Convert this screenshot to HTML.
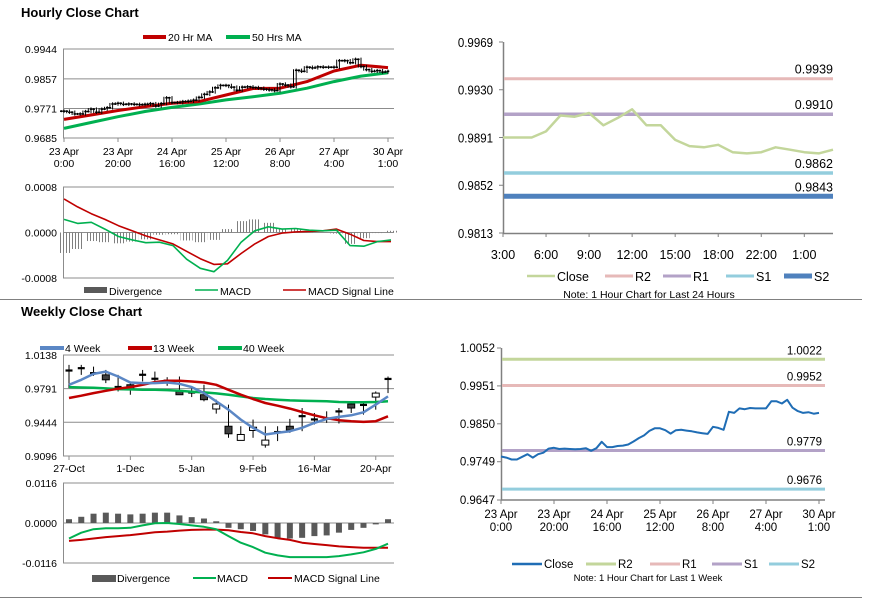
<!DOCTYPE html>
<html><head><meta charset="utf-8"><style>
html,body{margin:0;padding:0;background:#fff;}
svg{display:block;font-family:"Liberation Sans",Arial,sans-serif;}
</style></head><body>
<svg id="s" width="873" height="601" viewBox="0 0 873 601" xmlns="http://www.w3.org/2000/svg">
<defs><pattern id="hatch" width="3" height="4" patternUnits="userSpaceOnUse"><rect x="0" y="0" width="1" height="4" fill="#7f7f7f"/></pattern></defs>
<text x="21" y="17" font-size="13" font-weight="bold" fill="#000">Hourly Close Chart</text>
<text x="21" y="316" font-size="13" font-weight="bold" fill="#000">Weekly Close Chart</text>
<line x1="0" y1="299.5" x2="862" y2="299.5" stroke="#808080"/>
<line x1="0" y1="597.5" x2="862" y2="597.5" stroke="#808080"/>
</svg>
<script>
// ---------- data ----------
const hourlyClose=[0.9763,0.9760,0.9755,0.9755,0.9762,0.9769,0.9760,0.9769,0.9773,0.9784,0.9786,0.9783,0.9784,0.9783,0.9782,0.9783,0.9785,0.9778,0.9785,0.9802,0.9788,0.9788,0.9791,0.9792,0.9795,0.9803,0.9812,0.9819,0.9831,0.9838,0.9838,0.9833,0.9824,0.9833,0.9834,0.9832,0.9830,0.9827,0.9825,0.9823,0.9842,0.9839,0.9834,0.9882,0.9879,0.9891,0.9889,0.9892,0.9891,0.9891,0.9891,0.9910,0.9910,0.9904,0.9914,0.9893,0.9884,0.9879,0.9881,0.9877,0.9879];
const hourlyMA20=[0.9739,0.9752,0.9765,0.9776,0.9786,0.9791,0.9810,0.9829,0.9830,0.9849,0.9880,0.9897,0.9890];
const hourlyMA50=[0.9713,0.9730,0.9747,0.9762,0.9774,0.9784,0.9796,0.9805,0.9815,0.9830,0.9849,0.9865,0.9875];
const hourTickLabels=[["23 Apr","0:00"],["23 Apr","20:00"],["24 Apr","16:00"],["25 Apr","12:00"],["26 Apr","8:00"],["27 Apr","4:00"],["30 Apr","1:00"]];
const hourlyYTicks=[0.9944,0.9857,0.9771,0.9685];
const hMacd=[0.00023,0.00016,0.00018,0.00006,-0.00007,-0.00013,-0.00018,-0.00017,-0.00023,-0.00047,-0.00063,-0.00069,-0.00049,-0.00017,0.00003,0.0001,0.00006,0.00007,0.00004,0.00003,0.00004,-0.00023,-0.00024,-0.00016,-0.00013];
const hSignal=[0.00059,0.00045,0.00033,0.00023,0.00012,0.00003,-0.00006,-0.00013,-0.0002,-0.00033,-0.00046,-0.00056,-0.00055,-0.00037,-0.0002,-0.00007,-0.00001,0.00001,0.00002,0.00003,0.00006,-0.00003,-0.00014,-0.00016,-0.00016];
const hDiverg=[-0.00036,-0.00029,-0.00015,-0.00017,-0.00019,-0.00016,-0.00012,-0.00004,-0.00003,-0.00014,-0.00017,-0.00013,0.00006,0.0002,0.00023,0.00017,0.00007,0.00006,0.00002,0,-0.00002,-0.0002,-0.0001,-0.00001,0.00003];
const hMacdTicks=[0.0008,0.0000,-0.0008];

const dayClose=[0.9891,0.9891,0.9891,0.9896,0.9909,0.9908,0.9911,0.9901,0.9907,0.9914,0.9901,0.9901,0.9889,0.9884,0.9883,0.9885,0.9879,0.9878,0.9879,0.9883,0.9881,0.9879,0.9878,0.9881];
const dayTickLabels=["3:00","6:00","9:00","12:00","15:00","18:00","22:00","1:00"];
const dayYTicks=[0.9969,0.9930,0.9891,0.9852,0.9813];
const dayLevelNames=["R2","R1","S1","S2"];
const dayLevels=[0.9939,0.9910,0.9862,0.9843];

const wOpen=[0.9975,0.9999,0.9948,0.9933,0.9805,0.9831,0.9931,0.9890,0.9870,0.9762,0.9752,0.9728,0.9581,0.9403,0.9257,0.9359,0.9209,0.9340,0.9403,0.9504,0.9470,0.9477,0.9557,0.9632,0.9620,0.9704,0.9892];
const wHigh=[1.0036,1.0036,1.0018,0.9984,0.9933,0.9865,0.9984,0.9967,0.9909,0.9916,0.9807,0.9831,0.9677,0.9626,0.9403,0.9472,0.9403,0.9403,0.9479,0.9591,0.9540,0.9557,0.9591,0.9660,0.9660,0.9762,0.9916];
const wLow=[0.9796,0.9933,0.9923,0.9848,0.9762,0.9728,0.9865,0.9848,0.9820,0.9728,0.9704,0.9660,0.9533,0.9284,0.9257,0.9284,0.9182,0.9250,0.9335,0.9352,0.9421,0.9438,0.9431,0.9540,0.9523,0.9574,0.9745];
const wClose=[0.9979,1.0003,0.9952,0.9882,0.9809,0.9779,0.9935,0.9894,0.9874,0.9728,0.9731,0.9677,0.9632,0.9325,0.9318,0.9393,0.9260,0.9344,0.9362,0.9508,0.9474,0.9481,0.9533,0.9591,0.9624,0.9745,0.9872];
const wMA4=[0.9831,0.9882,0.9943,0.9967,0.9916,0.9854,0.9848,0.9848,0.9854,0.9841,0.9807,0.9745,0.9660,0.9574,0.9472,0.9387,0.9318,0.9335,0.9352,0.9387,0.9438,0.9479,0.9499,0.9516,0.9547,0.9626,0.9711];
const wMA13=[0.9694,0.9718,0.9745,0.9769,0.9790,0.9807,0.9831,0.9858,0.9872,0.9872,0.9865,0.9854,0.9831,0.9779,0.9728,0.9684,0.9643,0.9615,0.9585,0.9550,0.9516,0.9486,0.9465,0.9455,0.9448,0.9455,0.9506];
const wMA40=[0.9807,0.9803,0.9800,0.9793,0.9786,0.9783,0.9779,0.9779,0.9776,0.9769,0.9759,0.9752,0.9742,0.9728,0.9711,0.9694,0.9684,0.9677,0.9670,0.9667,0.9663,0.9660,0.9653,0.9650,0.9650,0.9653,0.9660];
const weekTickLabels=["27-Oct","1-Dec","5-Jan","9-Feb","16-Mar","20-Apr"];
const weekYTicks=[1.0138,0.9791,0.9444,0.9096];
const wDiverg=[0.0011,0.0018,0.0027,0.0030,0.0027,0.0025,0.0027,0.0030,0.0030,0.0022,0.0017,0.0013,0.0005,-0.0014,-0.0018,-0.0023,-0.0033,-0.0045,-0.0045,-0.0043,-0.0038,-0.0036,-0.0028,-0.0020,-0.0014,-0.0004,0.0011];
const wMacd=[-0.0045,-0.0028,-0.0018,-0.0015,-0.0015,-0.0014,-0.0007,-0.0001,0,-0.0003,-0.0007,-0.0011,-0.0018,-0.0038,-0.0057,-0.0070,-0.0086,-0.0094,-0.0099,-0.0099,-0.0099,-0.0099,-0.0096,-0.0091,-0.0085,-0.0075,-0.0060];
const wSignal=[-0.0052,-0.0049,-0.0045,-0.0041,-0.0038,-0.0035,-0.0031,-0.0027,-0.0025,-0.0022,-0.0020,-0.0019,-0.0019,-0.0021,-0.0026,-0.0030,-0.0038,-0.0044,-0.0049,-0.0057,-0.0061,-0.0064,-0.0068,-0.0070,-0.0072,-0.0072,-0.0072];
const wMacdTicks=[0.0116,0.0000,-0.0116];

const weekLevelNames=["R2","R1","S1","S2"];
const weekLevels=[1.0022,0.9952,0.9779,0.9676];
const weekYTicks2=[1.0052,0.9951,0.9850,0.9749,0.9647];

// ---------- helpers ----------
const svg=document.getElementById('s');
const NS='http://www.w3.org/2000/svg';
function mk(tag,attrs,parent){const e=document.createElementNS(NS,tag);for(const k in attrs)e.setAttribute(k,attrs[k]);(parent||svg).appendChild(e);return e;}
function txt(x,y,s,size,anchor,parent){const t=mk('text',{x:x,y:y,'font-size':size,'text-anchor':anchor||'start',fill:'#000'},parent);t.textContent=s;return t;}
function lin(v0,v1,p0,p1){return v=>p0+(v-v0)*(p1-p0)/(v1-v0);}
function poly(xs,ys,vals,color,w,parent){let d='';vals.forEach((v,i)=>{d+=(i?'L':'M')+xs(i).toFixed(1)+','+ys(v).toFixed(1);});return mk('path',{d:d,fill:'none',stroke:color,'stroke-width':w,'stroke-linejoin':'round'},parent);}
function grp(name){const g=mk('g',{});return g;}

// ---------- Panel A: hourly candles ----------
(function(){
const g=grp('hourly-price-panel');
const y=lin(0.9944,0.9685,49,138);
const xh=h=>64+h*2.7;
hourlyYTicks.forEach(v=>{mk('line',{x1:63,x2:394,y1:y(v),y2:y(v),stroke:'#8c8c8c','stroke-width':1},g);const t=txt(57,y(v)+4,v.toFixed(4),10.5,'end',g);});
mk('line',{x1:63.5,x2:63.5,y1:49,y2:138,stroke:'#8c8c8c'},g);
hourTickLabels.forEach((l,i)=>{const x=xh(i*20);mk('line',{x1:x,x2:x,y1:138,y2:142,stroke:'#8c8c8c'},g);const t1=txt(x,155,l[0],10.5,'middle',g);txt(x,167,l[1],10.5,'middle',g);});
const xs=i=>64+i*(324/(hourlyMA20.length-1));
const m50=poly(xs,y,hourlyMA50,'#00b050',3,g);
const m20=poly(xs,y,hourlyMA20,'#c00000',3,g);
hourlyClose.forEach((v,i)=>{
  const p=i?hourlyClose[i-1]:v;
  const hi=Math.max(p,v)+0.0005,lo=Math.min(p,v)-0.0005;
  for(let k=0;k<2;k++){
    const x=xh(i*2)-k*2.7;
    const c=mk('line',{x1:x,x2:x,y1:y(hi-k*0.0002),y2:y(lo+k*0.0002),stroke:'#000','stroke-width':1},g);
    
    
    mk('line',{x1:x-1.3,x2:x+1.3,y1:y(k?p:v),y2:y(k?p:v),stroke:'#000','stroke-width':1.5},g);
  }
});
mk('line',{x1:143,x2:166,y1:37,y2:37,stroke:'#c00000','stroke-width':4},g);txt(168,41,'20 Hr MA',10.5,'start',g);
mk('line',{x1:226,x2:250,y1:37,y2:37,stroke:'#00b050','stroke-width':4},g);txt(252,41,'50 Hrs MA',10.5,'start',g);
})();

// ---------- Panel B: hourly MACD ----------
(function(){
const g=grp('hourly-macd-panel');
const y=lin(0.0008,-0.0008,187,278);
const xs=i=>64+i*(327/(hMacd.length-1));
hMacdTicks.forEach(v=>{mk('line',{x1:63,x2:394,y1:y(v),y2:y(v),stroke:'#8c8c8c'},g);txt(57,y(v)+4,v.toFixed(4),10.5,'end',g);});
mk('line',{x1:63.5,x2:63.5,y1:187,y2:278,stroke:'#8c8c8c'},g);
hDiverg.forEach((v,i)=>{const y0=y(0),y1=y(v);const b=mk('rect',{x:xs(i)-6,y:Math.min(y0,y1),width:12,height:Math.abs(y1-y0),fill:'url(#hatch)'},g);});
const s=poly(xs,y,hSignal,'#c00000',1.6,g);
const m=poly(xs,y,hMacd,'#00b050',1.6,g);
mk('rect',{x:84,y:287,width:23,height:6,fill:'#595959'},g);txt(109,295,'Divergence',10.5,'start',g);
mk('line',{x1:195,x2:218,y1:290,y2:290,stroke:'#00b050','stroke-width':1.6},g);txt(220,295,'MACD',10.5,'start',g);
mk('line',{x1:283,x2:306,y1:290,y2:290,stroke:'#c00000','stroke-width':1.6},g);txt(308,295,'MACD Signal Line',10.5,'start',g);
})();

// ---------- Panel C: 24h levels ----------
(function(){
const g=grp('daily-levels-panel');
const y=lin(0.9969,0.9813,42,233);
const xs=i=>503+i*(330/(dayClose.length-1));
mk('line',{x1:503.5,x2:503.5,y1:42,y2:233,stroke:'#808080','stroke-width':1.5},g);
mk('line',{x1:503,x2:833,y1:233.5,y2:233.5,stroke:'#808080','stroke-width':1.5},g);
dayYTicks.forEach(v=>{mk('line',{x1:499,x2:503,y1:y(v),y2:y(v),stroke:'#808080'},g);const t=txt(493,y(v)+5,v.toFixed(4),12.5,'end',g);t.setAttribute('transform','translate('+(493*0.08)+',0) scale(0.92,1)');});
dayTickLabels.forEach((l,i)=>{const x=xs(i*3);mk('line',{x1:x,x2:x,y1:233,y2:237,stroke:'#808080'},g);const t=txt(x,259,l,12.5,'middle',g);});
const cols=['#e6b9b8','#b3a2c7','#93cddd','#4f81bd'];const ws=[3,3.5,3.5,5];
dayLevels.forEach((v,i)=>{const l=mk('line',{x1:504,x2:833,y1:y(v),y2:y(v),stroke:cols[i],'stroke-width':ws[i]},g);const t=txt(833,y(v)-5,v.toFixed(4),12.5,'end',g);});
const c=poly(xs,y,dayClose,'#c3d69b',2.5,g);
const leg=[['Close','#c3d69b',2.5,527],['R2','#e6b9b8',3,605],['R1','#b3a2c7',3,663],['S1','#93cddd',3,726],['S2','#4f81bd',5,784]];
leg.forEach(e=>{mk('line',{x1:e[3],x2:e[3]+28,y1:276,y2:276,stroke:e[1],'stroke-width':e[2]},g);const t=txt(e[3]+30,281,e[0],12.5,'start',g);});
txt(649,298,'Note: 1 Hour Chart for Last 24 Hours',10.5,'middle',g);
})();

// ---------- Panel D: weekly candles ----------
(function(){
const g=grp('weekly-price-panel');
const y=lin(1.0138,0.9096,355,456);
const xs=i=>69+i*12.27;
weekYTicks.forEach(v=>{mk('line',{x1:63,x2:394,y1:y(v),y2:y(v),stroke:'#8c8c8c'},g);txt(57,y(v)+4,v.toFixed(4),10.5,'end',g);});
mk('line',{x1:63.5,x2:63.5,y1:355,y2:456,stroke:'#8c8c8c'},g);
weekTickLabels.forEach((l,i)=>{const x=xs(i*5);mk('line',{x1:x,x2:x,y1:456,y2:460,stroke:'#8c8c8c'},g);const t=txt(x,472,l,10.5,'middle',g);});
wOpen.forEach((o,i)=>{const x=xs(i),c=wClose[i];mk('line',{x1:x,x2:x,y1:y(wHigh[i]),y2:y(wLow[i]),stroke:'#000'},g);const top=y(Math.max(o,c)),bot=y(Math.min(o,c));let b;if(bot-top<2.5){b=mk('rect',{x:x-3.5,y:top-1,width:7,height:2.2,fill:'#000'},g);}else{b=mk('rect',{x:x-3.5,y:top,width:7,height:bot-top,fill:c<o?'#404040':'#fff',stroke:'#000','stroke-width':1},g);}});
const m40=poly(xs,y,wMA40,'#00b050',2.5,g);
const m13=poly(xs,y,wMA13,'#c00000',2.5,g);
const m4=poly(xs,y,wMA4,'#5b87c5',2.5,g);
mk('line',{x1:40,x2:64,y1:348,y2:348,stroke:'#5b87c5','stroke-width':4},g);txt(65,352,'4 Week',10.5,'start',g);
mk('line',{x1:128,x2:152,y1:348,y2:348,stroke:'#c00000','stroke-width':4},g);txt(153,352,'13 Week',10.5,'start',g);
mk('line',{x1:218,x2:242,y1:348,y2:348,stroke:'#00b050','stroke-width':4},g);txt(243,352,'40 Week',10.5,'start',g);
})();

// ---------- Panel E: weekly MACD ----------
(function(){
const g=grp('weekly-macd-panel');
const y=lin(0.0116,-0.0116,483,563);
const xs=i=>69+i*12.27;
wMacdTicks.forEach(v=>{mk('line',{x1:63,x2:394,y1:y(v),y2:y(v),stroke:'#8c8c8c'},g);txt(57,y(v)+4,v.toFixed(4),10.5,'end',g);});
mk('line',{x1:63.5,x2:63.5,y1:483,y2:563,stroke:'#8c8c8c'},g);
wDiverg.forEach((v,i)=>{const y0=y(0),y1=y(v);const b=mk('rect',{x:xs(i)-3,y:Math.min(y0,y1),width:6,height:Math.abs(y1-y0),fill:'#595959'},g);});
const s=poly(xs,y,wSignal,'#c00000',2,g);
const m=poly(xs,y,wMacd,'#00b050',2,g);
mk('rect',{x:92,y:575,width:24,height:7,fill:'#595959'},g);txt(117,582,'Divergence',10.5,'start',g);
mk('line',{x1:193,x2:216,y1:578,y2:578,stroke:'#00b050','stroke-width':2},g);txt(217,582,'MACD',10.5,'start',g);
mk('line',{x1:268,x2:292,y1:578,y2:578,stroke:'#c00000','stroke-width':2},g);txt(294,582,'MACD Signal Line',10.5,'start',g);
})();

// ---------- Panel F: weekly levels ----------
(function(){
const g=grp('weekly-levels-panel');
const y=lin(1.0052,0.9647,348,500);
const xh=h=>501+h*2.65;
mk('line',{x1:501.5,x2:501.5,y1:348,y2:500,stroke:'#808080','stroke-width':1.5},g);
mk('line',{x1:501,x2:825,y1:500,y2:500,stroke:'#808080','stroke-width':1.5},g);
weekYTicks2.forEach(v=>{mk('line',{x1:497,x2:501,y1:y(v),y2:y(v),stroke:'#808080'},g);const t=txt(495,y(v)+4,v.toFixed(4),11.5,'end',g);});
hourTickLabels.forEach((l,i)=>{const x=xh(i*20);mk('line',{x1:x,x2:x,y1:500,y2:504,stroke:'#808080'},g);const t=txt(x,518,l[0],11.5,'middle',g);txt(x,531,l[1],11.5,'middle',g);});
const cols=['#c3d69b','#e6b9b8','#b3a2c7','#93cddd'];
weekLevels.forEach((v,i)=>{const l=mk('line',{x1:502,x2:825,y1:y(v),y2:y(v),stroke:cols[i],'stroke-width':3},g);const t=txt(822,y(v)-5,v.toFixed(4),11.5,'end',g);});
const c=poly(i=>xh(i*2),y,hourlyClose,'#1f6db5',2,g);
const leg=[['Close','#1f6db5',2.5,512],['R2','#c3d69b',3,586],['R1','#e6b9b8',3,650],['S1','#b3a2c7',3,712],['S2','#93cddd',3,769]];
leg.forEach(e=>{mk('line',{x1:e[3],x2:e[3]+30,y1:564,y2:564,stroke:e[1],'stroke-width':e[2]},g);const t=txt(e[3]+32,568,e[0],11.5,'start',g);});
txt(648,581,'Note: 1 Hour Chart for Last 1 Week',9.5,'middle',g);
})();
</script>
</body></html>
